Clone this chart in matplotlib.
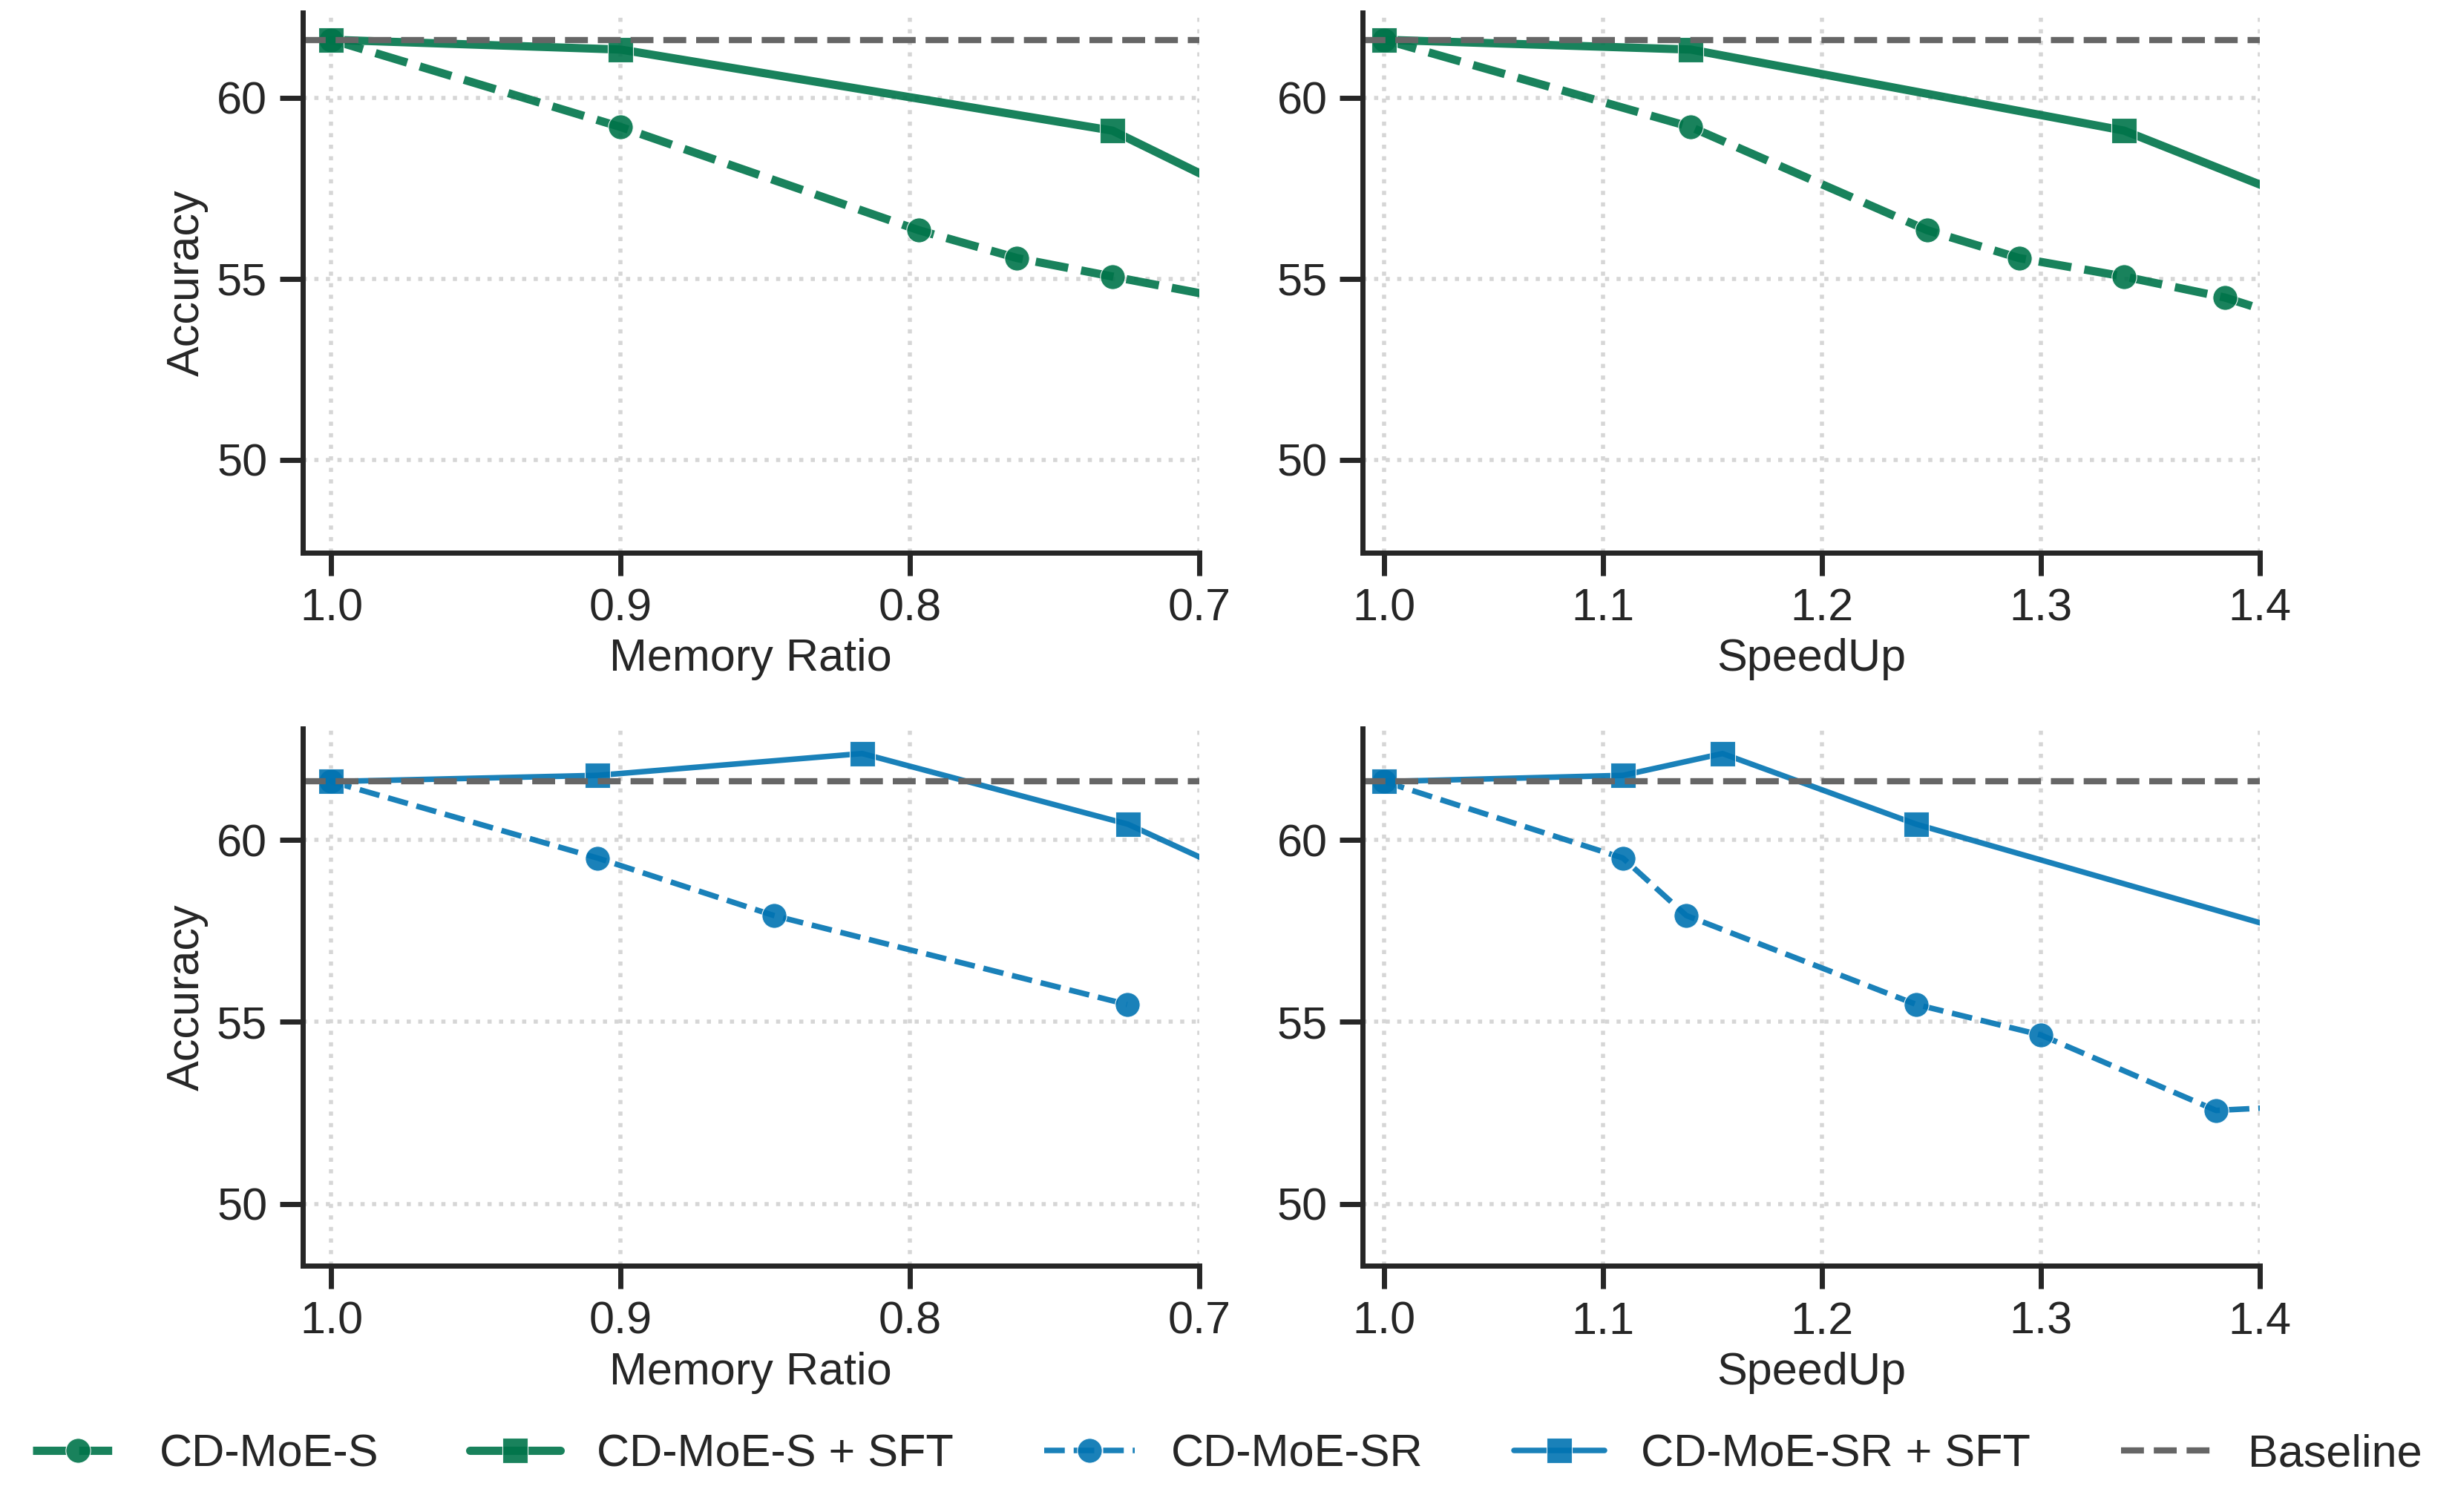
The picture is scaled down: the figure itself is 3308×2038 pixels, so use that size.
import matplotlib
matplotlib.use('Agg')
import matplotlib.pyplot as plt
import seaborn as sns

sns.set_theme(style='ticks', context='poster')
plt.rcParams['font.family'] = ['Liberation Sans', 'DejaVu Sans']

# accuracy values
baseline = 61.6

acc_s = [61.6, 59.19, 56.34, 55.57, 55.06, 54.48, 51.3]
mem_s = [1.0, 0.9, 0.797, 0.763, 0.73, 0.692, 0.6]
speed_s = [1.0, 1.14, 1.248, 1.29, 1.338, 1.384, 1.55]

acc_s_sft = [61.6, 61.33, 59.09, 54.0]
mem_s_sft = [1.0, 0.9, 0.73, 0.6]
speed_s_sft = [1.0, 1.14, 1.338, 1.55]

acc_sr = [61.6, 59.5, 57.92, 55.48, 54.64, 52.57, 52.93]
mem_sr = [1.0, 0.908, 0.847, 0.725]
speed_sr = [1.0, 1.109, 1.138, 1.243, 1.30, 1.38, 1.5]

acc_sr_sft = [61.6, 61.77, 62.37, 60.43, 56.0]
mem_sr_sft = [1.0, 0.908, 0.8165, 0.7247, 0.603]
speed_sr_sft = [1.0, 1.109, 1.1545, 1.243, 1.50]

mem_ticks = [1.0, 0.9, 0.8, 0.7]
speed_ticks = [1.0, 1.1, 1.2, 1.3, 1.4]
acc_ticks = [50, 55, 60]

green = '#00744a'
blue = '#0173b2'
grey = '#666666'

fig = plt.figure(figsize=(16.54, 10.19), dpi=200)
W, H = 3308, 2038
def make_ax(x0, x1, y0, y1):
    return fig.add_axes([x0 / W, 1 - y1 / H, (x1 - x0) / W, (y1 - y0) / H])

ax_tl = make_ax(407.5, 1616, 17.5, 745)
ax_tr = make_ax(1835.8, 3045, 17.5, 745)
ax_bl = make_ax(407.5, 1616, 981.8, 1706.3)
ax_br = make_ax(1835.8, 3045, 981.8, 1706.3)

mk = dict(markersize=12, markeredgecolor='#ffffff80', markeredgewidth=0.4, alpha=0.9)

def top_panel(ax, xs, xs_sft):
    ax.plot(xs, acc_s, color=green, lw=4, dashes=(4.0, 1.6), marker='o',
            label='CD-MoE-S', **mk)
    ax.plot(xs_sft, acc_s_sft, color=green, lw=4, marker='s',
            label='CD-MoE-S + SFT', **mk)

def bottom_panel(ax, xs, acc, xs_sft):
    ax.plot(xs, acc[:len(xs)], color=blue, lw=2.7, ls='--', marker='o',
            label='CD-MoE-SR', **mk)
    ax.plot(xs_sft, acc_sr_sft, color=blue, lw=2.7, marker='s',
            label='CD-MoE-SR + SFT', **mk)

top_panel(ax_tl, mem_s, mem_s_sft)
top_panel(ax_tr, speed_s, speed_s_sft)
bottom_panel(ax_bl, mem_sr, acc_sr, mem_sr_sft)
bottom_panel(ax_br, speed_sr, acc_sr, speed_sr_sft)

for ax in [ax_tl, ax_tr, ax_bl, ax_br]:
    ax.axhline(baseline, color=grey, lw=3, ls='--', label='Baseline')
    ax.grid(True, linestyle=(0, (1, 1.8)), color='#d6d6d6', linewidth=2)
    ax.set_yticks(acc_ticks)
    ax.tick_params(labelsize=22, length=11, width=2.5, pad=6)
    for s in ['left', 'bottom']:
        ax.spines[s].set_linewidth(2.5)
        ax.spines[s].set_color('#262626')
    sns.despine(ax=ax)

for ax in [ax_tl, ax_bl]:
    ax.set_xticks(mem_ticks)
    ax.set_xlim(1.01, 0.7)
    ax.set_xlabel('Memory Ratio', fontsize=22)
    ax.set_ylabel('Accuracy', fontsize=22)
for ax in [ax_tr, ax_br]:
    ax.set_xticks(speed_ticks)
    ax.set_xlim(0.99, 1.4)
    ax.set_xlabel('SpeedUp', fontsize=22)
for ax in [ax_tl, ax_tr]:
    ax.set_ylim(47.43, 62.34)
for ax in [ax_bl, ax_br]:
    ax.set_ylim(48.3, 63.06)
for ax in [ax_tl, ax_tr, ax_bl, ax_br]:
    ax.set_xticklabels(['%.1f' % t for t in ax.get_xticks()])

h1, l1 = ax_tl.get_legend_handles_labels()
h2, l2 = ax_bl.get_legend_handles_labels()
handles = [h1[0], h1[1], h2[0], h2[1], h1[2]]
labels = [l1[0], l1[1], l2[0], l2[1], l1[2]]
fig.legend(handles, labels, loc='center', bbox_to_anchor=(0.5, 0.038),
           ncol=5, frameon=False, fontsize=22, handlelength=2.0,
           handletextpad=0.8, columnspacing=2.0)

fig.savefig('out.png', dpi=200)
